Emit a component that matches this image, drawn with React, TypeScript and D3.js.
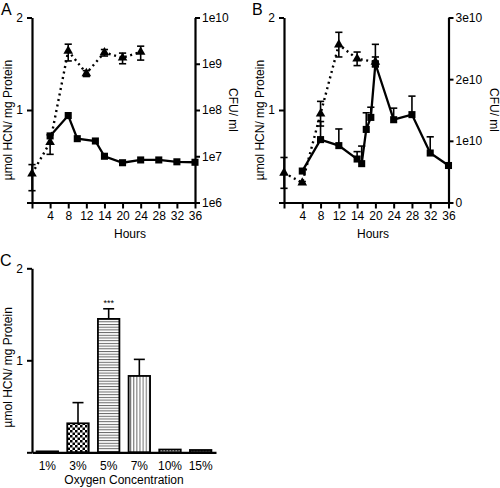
import React, { useEffect, useRef } from "react";
import * as d3 from "d3";

// ---------- data ----------
const hourTicks = [0, 4, 8, 12, 16, 20, 24, 28, 32, 36];
const hourTickLabels = ["", "4", "8", "12", "14", "20", "24", "28", "32", "36"];

// Panel A
const aHcnHours = [4, 8, 10, 14, 16, 20, 24, 28, 32, 36];
const aHcn = [0.72, 0.94, 0.69, 0.665, 0.5, 0.43, 0.46, 0.46, 0.44, 0.435];
const aCfuHours = [0, 4, 8, 12, 16, 20, 24];
const aCfu = [4.2e6, 2.0e7, 1.9e9, 6.2e8, 1.75e9, 1.35e9, 1.8e9];
const aCfuErr = [2.4e6, 0.9e7, 0.75e9, 0.9e8, 0.28e9, 0.35e9, 0.6e9];
const aRightTicks = [1e6, 1e7, 1e8, 1e9, 1e10];
const aRightLabels = ["1e6", "1e7", "1e8", "1e9", "1e10"];

// Panel B
const bHcnHours = [4, 8, 12, 16, 17, 18, 19, 20, 24, 28, 32, 36];
const bHcn = [0.34, 0.68, 0.615, 0.47, 0.42, 0.79, 0.92, 1.5, 0.895, 0.95, 0.535, 0.4];
const bHcnErr = [0.02, 0.195, 0.18, 0.08, 0.19, 0.18, 0.11, 0.21, 0.125, 0.2, 0.175, 0];
const bCfuHours = [0, 4, 8, 12, 16, 20];
const bCfu = [0.48e10, 0.32e10, 1.44e10, 2.56e10, 2.33e10, 2.28e10];
const bCfuErr = [0.25e10, 0.02e10, 0.2e10, 0.2e10, 0.11e10, 0.08e10];
const bRightTicks = [0, 1e10, 2e10, 3e10];
const bRightLabels = ["0", "1e10", "2e10", "3e10"];

// Panel C
const oxygen = ["1%", "3%", "5%", "7%", "10%", "15%"];
const cHcn = [0.01, 0.315, 1.45, 0.83, 0.03, 0.025];
const cErr = [0, 0.225, 0.11, 0.18, 0.005, 0.005];
const cPatterns = ["solidBlack", "checker", "hlines", "vlines", "dots", "dots2"];

const leftTicks = [0, 1, 2];
const leftLabels = ["", "1", "2"];

const FONT = "'Liberation Sans', Arial, Helvetica, sans-serif";

type PanelOpts = {
  x0: number;
  x1: number;
  letter: string;
  letterX: number;
  leftTitleX: number;
  rightTitleX: number;
  hoursX: number;
  hcnHours: number[];
  hcn: number[];
  hcnErr: number[] | null;
  cfuHours: number[];
  cfu: number[];
  cfuErr: number[];
  log: boolean;
  rightTicks: number[];
  rightLabels: string[];
};

function styleAxis(g: d3.Selection<SVGGElement, unknown, null, undefined>) {
  g.attr("font-family", FONT).attr("font-size", 12);
  g.select(".domain").attr("stroke", "#000").attr("stroke-width", 2.2);
  g.selectAll(".tick line").attr("stroke", "#000").attr("stroke-width", 2);
  g.selectAll(".tick text").attr("fill", "#000");
}

function drawTimePanel(svg: d3.Selection<SVGSVGElement, unknown, null, undefined>, o: PanelOpts) {
  const yTop = 17.5;
  const yBot = 202.5;
  const x = d3.scaleLinear().domain([0, 36]).range([o.x0, o.x1]);
  const yL = d3.scaleLinear().domain([0, 2]).range([yBot, yTop]);
  const yR = o.log
    ? d3.scaleLog().domain([1e6, 1e10]).range([yBot, yTop])
    : d3.scaleLinear().domain([0, 3e10]).range([yBot, yTop]);

  const g = svg.append("g");

  // axes
  const gx = g
    .append("g")
    .attr("transform", `translate(0,${yBot})`)
    .call(
      d3
        .axisBottom(x)
        .tickValues(hourTicks)
        .tickFormat((_d, i) => hourTickLabels[i])
        .tickSize(6)
        .tickSizeOuter(0)
        .tickPadding(3)
    );
  styleAxis(gx);

  const gl = g
    .append("g")
    .attr("transform", `translate(${o.x0},0)`)
    .call(
      d3
        .axisLeft(yL)
        .tickValues(leftTicks)
        .tickFormat((_d, i) => leftLabels[i])
        .tickSize(5)
        .tickSizeOuter(0)
        .tickPadding(4)
    );
  styleAxis(gl);

  const gr = g
    .append("g")
    .attr("transform", `translate(${o.x1},0)`)
    .call(
      d3
        .axisRight(yR as any)
        .tickValues(o.rightTicks)
        .tickFormat((_d: any, i: number) => o.rightLabels[i])
        .tickSize(5)
        .tickSizeOuter(0)
        .tickPadding(2)
    );
  styleAxis(gr);

  // titles
  g.append("text")
    .attr("x", o.letterX)
    .attr("y", 15)
    .attr("font-family", FONT)
    .attr("font-size", 16)
    .text(o.letter);

  g.append("text")
    .attr("transform", `translate(${o.leftTitleX},${(yTop + yBot) / 2 + 10}) rotate(-90)`)
    .attr("text-anchor", "middle")
    .attr("font-family", FONT)
    .attr("font-size", 12)
    .text("µmol HCN/ mg Protein");

  g.append("text")
    .attr("transform", `translate(${o.rightTitleX},${(yTop + yBot) / 2}) rotate(90)`)
    .attr("text-anchor", "middle")
    .attr("font-family", FONT)
    .attr("font-size", 12)
    .text("CFU/ ml");

  g.append("text")
    .attr("x", o.hoursX)
    .attr("y", 238)
    .attr("text-anchor", "middle")
    .attr("font-family", FONT)
    .attr("font-size", 12)
    .text("Hours");

  // CFU series (dotted, triangles)
  const cfuPts = o.cfuHours.map((h, i) => ({ h, v: o.cfu[i], e: o.cfuErr[i] }));
  const lineR = d3
    .line<{ h: number; v: number }>()
    .x((d) => x(d.h))
    .y((d) => (yR as any)(d.v));
  g.append("path")
    .datum(cfuPts)
    .attr("d", lineR)
    .attr("fill", "none")
    .attr("stroke", "#000")
    .attr("stroke-width", 2.4)
    .attr("stroke-dasharray", "2,3.6");

  const errG = g.append("g").attr("stroke", "#000").attr("stroke-width", 1.6);
  cfuPts.forEach((d) => {
    const yr = yR as any;
    const lo = Math.max(d.v - d.e, o.log ? 1e6 : 0);
    const yHi = yr(d.v + d.e);
    const yLo = yr(lo);
    const cx = x(d.h);
    errG.append("line").attr("x1", cx).attr("x2", cx).attr("y1", yHi).attr("y2", yLo);
    errG.append("line").attr("x1", cx - 3.6).attr("x2", cx + 3.6).attr("y1", yHi).attr("y2", yHi);
    errG.append("line").attr("x1", cx - 3.6).attr("x2", cx + 3.6).attr("y1", yLo).attr("y2", yLo);
  });

  const tri = d3.symbol().type(d3.symbolTriangle).size(40);
  g.append("g")
    .selectAll("path")
    .data(cfuPts)
    .join("path")
    .attr("d", tri as any)
    .attr("transform", (d) => `translate(${x(d.h)},${(yR as any)(d.v)})`)
    .attr("fill", "#000");

  // HCN series (solid, squares)
  const hcnPts = o.hcnHours.map((h, i) => ({ h, v: o.hcn[i], e: o.hcnErr ? o.hcnErr[i] : 0 }));
  if (o.hcnErr) {
    const eg = g.append("g").attr("stroke", "#000").attr("stroke-width", 1.6);
    hcnPts.forEach((d) => {
      if (d.e <= 0.03) return;
      const cx = x(d.h);
      const yHi = yL(d.v + d.e);
      eg.append("line").attr("x1", cx).attr("x2", cx).attr("y1", yHi).attr("y2", yL(d.v));
      eg.append("line").attr("x1", cx - 3.6).attr("x2", cx + 3.6).attr("y1", yHi).attr("y2", yHi);
    });
  }
  const lineL = d3
    .line<{ h: number; v: number }>()
    .x((d) => x(d.h))
    .y((d) => yL(d.v));
  g.append("path")
    .datum(hcnPts)
    .attr("d", lineL)
    .attr("fill", "none")
    .attr("stroke", "#000")
    .attr("stroke-width", 2.3)
    .attr("stroke-linejoin", "miter");

  const sq = d3.symbol().type(d3.symbolSquare).size(50);
  g.append("g")
    .selectAll("path")
    .data(hcnPts)
    .join("path")
    .attr("d", sq as any)
    .attr("transform", (d) => `translate(${x(d.h)},${yL(d.v)})`)
    .attr("fill", "#000");
}

function drawBarPanel(svg: d3.Selection<SVGSVGElement, unknown, null, undefined>) {
  const yTop = 268.3;
  const yBot = 452.3;
  const xs = d3.scaleBand<string>().domain(oxygen).range([32, 216]).paddingInner(0.3).paddingOuter(0.15);
  const y = d3.scaleLinear().domain([0, 2]).range([yBot, yTop]);
  const g = svg.append("g");

  const defs = svg.append("defs");
  const checker = defs
    .append("pattern")
    .attr("id", "checker")
    .attr("patternUnits", "userSpaceOnUse")
    .attr("width", 5)
    .attr("height", 5);
  checker.append("rect").attr("width", 5).attr("height", 5).attr("fill", "#fff");
  checker.append("rect").attr("width", 2.5).attr("height", 2.5).attr("fill", "#000");
  checker.append("rect").attr("x", 2.5).attr("y", 2.5).attr("width", 2.5).attr("height", 2.5).attr("fill", "#000");

  const hl = defs
    .append("pattern")
    .attr("id", "hlines")
    .attr("patternUnits", "userSpaceOnUse")
    .attr("width", 4)
    .attr("height", 2.7);
  hl.append("rect").attr("width", 4).attr("height", 2.7).attr("fill", "#fff");
  hl.append("rect").attr("y", 0).attr("width", 4).attr("height", 1).attr("fill", "#666");

  const vl = defs
    .append("pattern")
    .attr("id", "vlines")
    .attr("patternUnits", "userSpaceOnUse")
    .attr("width", 3.1)
    .attr("height", 4);
  vl.append("rect").attr("width", 3.1).attr("height", 4).attr("fill", "#fff");
  vl.append("rect").attr("x", 0).attr("width", 1).attr("height", 4).attr("fill", "#666");

  const dots = defs
    .append("pattern")
    .attr("id", "dots")
    .attr("patternUnits", "userSpaceOnUse")
    .attr("width", 3)
    .attr("height", 3);
  dots.append("rect").attr("width", 3).attr("height", 3).attr("fill", "#fff");
  dots.append("rect").attr("width", 1.5).attr("height", 1.5).attr("fill", "#555");

  const dots2 = defs
    .append("pattern")
    .attr("id", "dots2")
    .attr("patternUnits", "userSpaceOnUse")
    .attr("width", 3)
    .attr("height", 3);
  dots2.append("rect").attr("width", 3).attr("height", 3).attr("fill", "#888");
  dots2.append("rect").attr("width", 1.5).attr("height", 1.5).attr("fill", "#222");

  const bars = oxygen.map((k, i) => ({ k, v: cHcn[i], e: cErr[i], p: cPatterns[i] }));

  // error bars (upward)
  const eg = g.append("g").attr("stroke", "#000").attr("stroke-width", 1.6);
  bars.forEach((d) => {
    if (d.e < 0.02) return;
    const cx = (xs(d.k) as number) + xs.bandwidth() / 2;
    const yHi = y(d.v + d.e);
    eg.append("line").attr("x1", cx).attr("x2", cx).attr("y1", yHi).attr("y2", y(d.v));
    eg.append("line").attr("x1", cx - 5.5).attr("x2", cx + 5.5).attr("y1", yHi).attr("y2", yHi);
  });

  g.append("g")
    .selectAll("rect")
    .data(bars)
    .join("rect")
    .attr("x", (d) => xs(d.k) as number)
    .attr("width", xs.bandwidth())
    .attr("y", (d) => y(d.v))
    .attr("height", (d) => Math.max(0.5, yBot - y(d.v)))
    .attr("fill", (d) => (d.p === "solidBlack" ? "#000" : `url(#${d.p})`))
    .attr("stroke", "#000")
    .attr("stroke-width", 1.8);

  // significance
  const c5 = (xs("5%") as number) + xs.bandwidth() / 2;
  g.append("text")
    .attr("x", c5)
    .attr("y", y(cHcn[2] + cErr[2]) - 3)
    .attr("text-anchor", "middle")
    .attr("font-family", FONT)
    .attr("font-size", 9)
    .text("***");

  const gx = g
    .append("g")
    .attr("transform", `translate(0,${yBot})`)
    .call(d3.axisBottom(xs).tickSize(0).tickSizeOuter(0).tickPadding(9));
  styleAxis(gx);

  const gl = g
    .append("g")
    .attr("transform", `translate(32,0)`)
    .call(
      d3
        .axisLeft(y)
        .tickValues(leftTicks)
        .tickFormat((_d, i) => leftLabels[i])
        .tickSize(5)
        .tickSizeOuter(0)
        .tickPadding(4)
    );
  styleAxis(gl);

  g.append("text")
    .attr("x", 0)
    .attr("y", 266)
    .attr("font-family", FONT)
    .attr("font-size", 16)
    .text("C");

  g.append("text")
    .attr("transform", `translate(11.5,${(yTop + yBot) / 2 + 7}) rotate(-90)`)
    .attr("text-anchor", "middle")
    .attr("font-family", FONT)
    .attr("font-size", 12)
    .text("µmol HCN/ mg Protein");

  g.append("text")
    .attr("x", 124)
    .attr("y", 484)
    .attr("text-anchor", "middle")
    .attr("font-family", FONT)
    .attr("font-size", 12)
    .text("Oxygen Concentration");
}

export default function App() {
  const ref = useRef<SVGSVGElement>(null);
  useEffect(() => {
    if (!ref.current) return;
    const svg = d3.select(ref.current);
    svg.selectAll("*").remove();
    drawTimePanel(svg, {
      x0: 32,
      x1: 195,
      letter: "A",
      letterX: 1,
      leftTitleX: 11.5,
      rightTitleX: 229,
      hoursX: 130,
      hcnHours: aHcnHours,
      hcn: aHcn,
      hcnErr: null,
      cfuHours: aCfuHours,
      cfu: aCfu,
      cfuErr: aCfuErr,
      log: true,
      rightTicks: aRightTicks,
      rightLabels: aRightLabels,
    });
    drawTimePanel(svg, {
      x0: 284,
      x1: 448.5,
      letter: "B",
      letterX: 252,
      leftTitleX: 264,
      rightTitleX: 490,
      hoursX: 373,
      hcnHours: bHcnHours,
      hcn: bHcn,
      hcnErr: bHcnErr,
      cfuHours: bCfuHours,
      cfu: bCfu,
      cfuErr: bCfuErr,
      log: false,
      rightTicks: bRightTicks,
      rightLabels: bRightLabels,
    });
    drawBarPanel(svg);
  }, []);
  return (
    <svg
      ref={ref}
      width={500}
      height={488}
      style={{ position: "absolute", left: 0, top: 0, background: "#fff", display: "block" }}
    />
  );
}
